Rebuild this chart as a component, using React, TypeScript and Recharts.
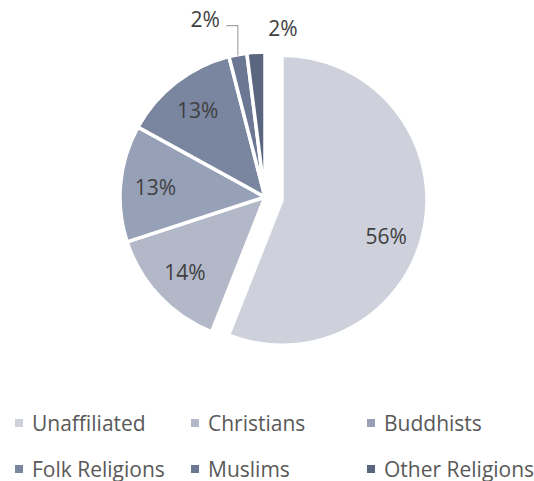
import React from 'react';
import { PieChart, Pie, Cell, Legend } from 'recharts';

const categories = ['Unaffiliated', 'Christians', 'Buddhists', 'Folk Religions', 'Muslims', 'Other Religions'];
const shares = [56, 14, 13, 13, 2, 2];
const colors = ['#CED1DC', '#B3B8C9', '#96A0B7', '#7A85A0', '#6B7793', '#5A6680'];

const data = categories.map((name, i) => ({ name, value: shares[i] }));

const RAD = Math.PI / 180;
const FONT = '"Open Sans", sans-serif';
const LABEL_COLOR = '#404040';
const FS = 21;

const CX = 265;
const CY = 197;
const R = 145;
const EXPLODE = 17.3;
// exploded slice centre derived from its mid angle
const midAngle0 = 90 - (shares[0] / 100) * 180;
const CX0 = CX + EXPLODE * Math.cos(-midAngle0 * RAD);
const CY0 = CY + EXPLODE * Math.sin(-midAngle0 * RAD);

function polar(cx: number, cy: number, r: number, angle: number) {
  return { x: cx + r * Math.cos(-angle * RAD), y: cy + r * Math.sin(-angle * RAD) };
}

function renderLabel(props: any) {
  const { cx, cy, midAngle, outerRadius, index, value } = props;
  const text = `${value}%`;
  if (index === 4) {
    const p = polar(cx, cy, outerRadius, midAngle);
    const ey = p.y - 29;
    const ex = p.x - 11.5;
    return (
      <g key={`l-${index}`}>
        <polyline points={`${p.x},${p.y + 1} ${p.x},${ey} ${ex},${ey}`} fill="none" stroke="#A6A6A6" strokeWidth={1.2} />
        <text x={p.x - 18} y={p.y - 36} textAnchor="end" dominantBaseline="central" fill={LABEL_COLOR} fontFamily={FONT} fontSize={FS}>
          {text}
        </text>
      </g>
    );
  }
  if (index === 5) {
    const p = polar(cx, cy, outerRadius, midAngle);
    return (
      <text key={`l-${index}`} x={p.x + 27} y={p.y - 24} textAnchor="middle" dominantBaseline="central" fill={LABEL_COLOR} fontFamily={FONT} fontSize={FS}>
        {text}
      </text>
    );
  }
  const ang = index === 0 ? midAngle - 8 : midAngle;
  const p = polar(cx, cy, 110, ang);
  return (
    <text key={`l-${index}`} x={p.x} y={p.y} textAnchor="middle" dominantBaseline="central" fill={LABEL_COLOR} fontFamily={FONT} fontSize={FS}>
      {text}
    </text>
  );
}

function renderMainLabel(props: any) {
  if (props.index === 0) return null;
  return renderLabel(props);
}

function renderExplodedLabel(props: any) {
  if (props.index !== 0) return null;
  return renderLabel(props);
}

const legendCols = [15, 191, 367];
const legendRows = [423, 468.5];

function LegendContent() {
  return (
    <div style={{ position: 'relative', width: 534, height: 80 }}>
      {categories.map((name, i) => {
        const col = i % 3;
        const row = Math.floor(i / 3);
        return (
          <div
            key={name}
            style={{
              position: 'absolute',
              left: legendCols[col],
              top: legendRows[row] - 405 - 13,
              height: 26,
              display: 'flex',
              alignItems: 'center',
              whiteSpace: 'nowrap',
            }}
          >
            <span style={{ display: 'inline-block', width: 8, height: 8, background: colors[i], marginRight: 9 }} />
            <span style={{ fontFamily: FONT, fontSize: FS, color: '#595959', lineHeight: '26px' }}>{name}</span>
          </div>
        );
      })}
    </div>
  );
}

export default function App() {
  return (
    <div style={{ position: 'absolute', left: 0, top: 0, width: 534, height: 481, background: '#fff' }}>
      <PieChart width={534} height={481} margin={{ top: 0, right: 0, bottom: 0, left: 0 }}>
        <Pie
          data={data}
          dataKey="value"
          nameKey="name"
          cx={CX}
          cy={CY}
          outerRadius={R}
          startAngle={90}
          endAngle={-270}
          stroke="#FFFFFF"
          strokeWidth={3.5}
          isAnimationActive={false}
          labelLine={false}
          label={renderMainLabel}
        >
          {data.map((d, i) => (
            <Cell key={d.name} fill={i === 0 ? 'transparent' : colors[i]} stroke={i === 0 ? 'none' : '#FFFFFF'} />
          ))}
        </Pie>
        <Pie
          data={data}
          dataKey="value"
          nameKey="name"
          cx={CX0}
          cy={CY0}
          outerRadius={R}
          startAngle={90}
          endAngle={-270}
          stroke="#FFFFFF"
          strokeWidth={3.5}
          isAnimationActive={false}
          labelLine={false}
          label={renderExplodedLabel}
          legendType="none"
        >
          {data.map((d, i) => (
            <Cell key={d.name} fill={i === 0 ? colors[0] : 'transparent'} stroke={i === 0 ? '#FFFFFF' : 'none'} />
          ))}
        </Pie>
        <Legend
          content={() => <LegendContent />}
          wrapperStyle={{ position: 'absolute', left: 0, top: 405, width: 534, height: 80 }}
        />
      </PieChart>
    </div>
  );
}
